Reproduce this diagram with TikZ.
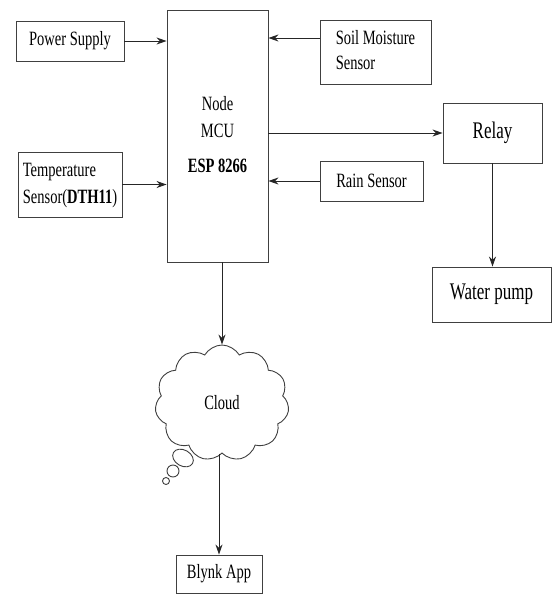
\documentclass[tikz,border=0pt]{standalone}
\usepackage{fontspec}
\setmainfont{Liberation Serif}
\usepackage{graphicx}
\usetikzlibrary{arrows.meta,shapes.symbols}
\newcommand{\tallt}[1]{\scalebox{1}[1.4]{#1}}
\tikzset{
  blk/.style={draw=black!75, line width=0.9pt, inner sep=0pt, font=\fontsize{14.5}{17.4}\selectfont},
  bigtxt/.style={font=\fontsize{17}{20}\selectfont},
  lnk/.style={-{Stealth[length=10pt,width=7pt]}, line width=0.9pt, black!85}
}
\begin{document}
\begin{tikzpicture}[x=1pt, y=-1pt]
      \useasboundingbox (0,0) rectangle (552,595);
      % controller in the middle
      \node[blk, minimum width=101pt, minimum height=252pt] (mcu) at (217.5,136)
        {\tallt{\renewcommand{\arraystretch}{1.1}\begin{tabular}{@{}c@{}}Node\\MCU\\[6pt]\textbf{ESP 8266}\end{tabular}}};
      % inputs on the left
      \node[blk, minimum width=108pt, minimum height=40pt] (power) at (70,41) {\tallt{Power Supply}};
      \node[blk, minimum width=104pt, minimum height=65pt, align=left] (temp) at (70,184.5)
        {\tallt{\renewcommand{\arraystretch}{1.1}\begin{tabular}{@{}l@{}}Temperature\\Sensor(\textbf{DTH11})\end{tabular}}};
      % inputs on the right
      \node[blk, minimum width=111pt, minimum height=64pt] (soil) at (375.5,52)
        {\tallt{\renewcommand{\arraystretch}{1.05}\begin{tabular}{@{}l@{}}Soil Moisture\\Sensor\end{tabular}}};
      \node[blk, minimum width=103pt, minimum height=40pt] (rain) at (371.5,181) {\tallt{Rain Sensor}};
      % outputs
      \node[blk, bigtxt, minimum width=99pt, minimum height=60pt] (relay) at (492.5,133) {\tallt{Relay}};
      \node[blk, bigtxt, minimum width=119pt, minimum height=55pt] (pump) at (491.5,294.5) {\tallt{Water pump}};
      % cloud and app
      \node[blk, cloud, cloud puffs=11, cloud puff arc=120, aspect=1.15,
            minimum width=134pt, minimum height=116pt] (cloud) at (222,403) {\tallt{Cloud}};
      \draw[draw=black!75, line width=0.9pt] (183,458) ellipse[x radius=11pt, y radius=8pt, rotate=-30];
      \draw[draw=black!75, line width=0.9pt] (173,471) circle (6pt);
      \draw[draw=black!75, line width=0.9pt] (166,481) circle (3.5pt);
      \node[blk, minimum width=86pt, minimum height=38pt] (blynk) at (219,574) {\tallt{Blynk App}};
      % arrows into the controller
      \draw[lnk] (power.east) -- (power.east -| mcu.west);
      \draw[lnk] (temp.east) -- (temp.east -| mcu.west);
      \draw[lnk] ([yshift=14pt]soil.west) -- ([yshift=14pt]soil.west -| mcu.east);
      \draw[lnk] (rain.west) -- (rain.west -| mcu.east);
      % arrows out of the controller
      \draw[lnk] (relay.west -| mcu.east) -- (relay.west);
      \draw[lnk] (relay.south) -- (relay.south |- pump.north);
      \draw[lnk] (mcu.south -| cloud.north) -- (cloud.north);
      \draw[lnk] (cloud.south -| blynk.north) -- (blynk.north);
    \end{tikzpicture}
\end{document}
